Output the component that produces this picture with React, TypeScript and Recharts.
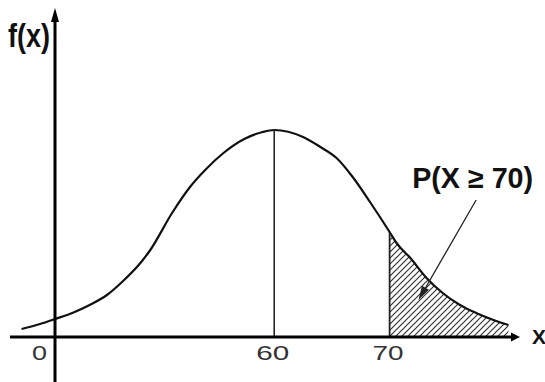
import React from 'react';
import { ComposedChart, Line, Area, XAxis, YAxis, ReferenceLine } from 'recharts';

// x positions (in the chart's x units) and curve heights f(x)
const xValues = [38.1, 39.7, 41.0, 42.6, 44.0, 45.5, 46.9, 48.4, 49.2, 51.2, 52.7, 54.1, 55.6, 57.4, 59.0, 60.0, 62.5, 64.0, 65.4, 66.8, 68.3, 70.0, 70.6, 71.8, 73.2, 74.6, 76.1, 77.5, 79.0, 80.3];
const densityValues = [0.08, 0.13, 0.18, 0.245, 0.32, 0.42, 0.56, 0.74, 0.86, 1.25, 1.5, 1.68, 1.84, 1.98, 2.05, 2.07, 2.0, 1.9, 1.79, 1.6, 1.35, 1.05, 0.94, 0.79, 0.59, 0.44, 0.32, 0.24, 0.17, 0.12];

const meanValue = 60;
const tailStart = 70;
const originX = 41;
const tickValues = [41, 60, 70];
const tickLabels = ['0', '60', '70'];
const tickLabelWidths = [15, 33, 31];
const xDomain = [37.1, 81.3];
const yDomain = [0, 3.29];
const yAxisBottom = -0.45;
const pointerFrom = { x: 77.5, y: 1.37 };
const pointerTo = { x: 72.5, y: 0.37 };
const annotationText = 'P(X \u2265 70)';
const yTitle = 'f(x)';
const xTitle = 'X';

const data = xValues.map((x, i) => ({
  x,
  f: densityValues[i],
  tail: x >= tailStart ? densityValues[i] : null,
}));
const meanHeight = densityValues[xValues.indexOf(meanValue)];
const tailHeight = densityValues[xValues.indexOf(tailStart)];

type ArrowOpts = {
  head: number;
  half: number;
  width: number;
  color: string;
  label?: (p: any) => React.ReactNode;
};

const arrowShape = (opts: ArrowOpts) => (props: any) => {
  const { x1, y1, x2, y2 } = props;
  const dx = x2 - x1;
  const dy = y2 - y1;
  const len = Math.hypot(dx, dy) || 1;
  const ux = dx / len;
  const uy = dy / len;
  const bx = x2 - ux * opts.head;
  const by = y2 - uy * opts.head;
  const px = -uy * opts.half;
  const py = ux * opts.half;
  return (
    <g>
      <line x1={x1} y1={y1} x2={bx + ux} y2={by + uy} stroke={opts.color} strokeWidth={opts.width} />
      <polygon points={`${x2},${y2} ${bx + px},${by + py} ${bx - px},${by - py}`} fill={opts.color} />
      {opts.label ? opts.label(props) : null}
    </g>
  );
};

const boldFont = '"Liberation Sans", Arial, sans-serif';

const xAxisShape = arrowShape({
  head: 9,
  half: 4.5,
  width: 3,
  color: '#000',
  label: (p) => (
    <text x={p.x2 + 12} y={p.y2 + 7} fontFamily={boldFont} fontWeight="bold" fontSize={21} fill="#111">
      {xTitle}
    </text>
  ),
});

const yAxisShape = arrowShape({
  head: 14,
  half: 4,
  width: 3,
  color: '#000',
  label: (p) => (
    <text
      x={p.x2 - 47}
      y={p.y2 + 39}
      fontFamily={boldFont}
      fontWeight="bold"
      fontSize={33}
      fill="#111"
      textLength={42}
      lengthAdjust="spacingAndGlyphs"
    >
      {yTitle}
    </text>
  ),
});

const pointerShape = arrowShape({
  head: 14,
  half: 4,
  width: 1.3,
  color: '#222',
  label: (p) => (
    <text
      x={p.x1 - 64}
      y={p.y1 - 12}
      fontFamily={boldFont}
      fontWeight="bold"
      fontSize={29}
      fill="#111"
      textLength={121}
      lengthAdjust="spacingAndGlyphs"
    >
      {annotationText}
    </text>
  ),
});

const Tick = (props: any) => {
  const { x, y, payload } = props;
  const i = tickValues.indexOf(payload.value);
  if (i < 0) return null;
  const isOrigin = payload.value === originX;
  return (
    <text
      x={isOrigin ? x - 8 : x - 1.5}
      y={y + 23}
      textAnchor={isOrigin ? 'end' : 'middle'}
      fontFamily={boldFont}
      fontSize={20}
      fill="#333"
      textLength={tickLabelWidths[i]}
      lengthAdjust="spacingAndGlyphs"
    >
      {tickLabels[i]}
    </text>
  );
};

export default function App() {
  return (
    <div style={{ position: 'absolute', left: 0, top: 0, width: 545, height: 382, background: '#fff' }}>
      <ComposedChart width={545} height={382} data={data} margin={{ top: 8, right: 25, bottom: 0, left: 10 }}>
        <defs>
          <pattern id="hatch" patternUnits="userSpaceOnUse" width={6} height={6}>
            <path d="M0,6 L6,0 M-1,1 L1,-1 M5,7 L7,5" stroke="#333" strokeWidth={1.2} />
          </pattern>
        </defs>
        <XAxis
          dataKey="x"
          type="number"
          domain={xDomain}
          ticks={tickValues}
          tick={<Tick />}
          interval={0}
          axisLine={false}
          tickLine={false}
          tickSize={0}
          tickMargin={0}
          height={45}
        />
        <YAxis type="number" domain={yDomain} hide />
        <Area
          dataKey="tail"
          type="monotone"
          stroke="none"
          fill="url(#hatch)"
          fillOpacity={1}
          baseValue={0}
          isAnimationActive={false}
        />
        <Line dataKey="f" type="monotone" dot={false} stroke="#111" strokeWidth={2.2} isAnimationActive={false} />
        <ReferenceLine
          segment={[{ x: meanValue, y: 0 }, { x: meanValue, y: meanHeight }]}
          stroke="#222"
          strokeWidth={1.6}
          ifOverflow="visible"
        />
        <ReferenceLine
          segment={[{ x: tailStart, y: 0 }, { x: tailStart, y: tailHeight }]}
          stroke="#222"
          strokeWidth={1.8}
          ifOverflow="visible"
        />
        <ReferenceLine
          segment={[{ x: xDomain[0], y: 0 }, { x: xDomain[1], y: 0 }]}
          shape={xAxisShape}
          ifOverflow="visible"
        />
        <ReferenceLine
          segment={[{ x: originX, y: yAxisBottom }, { x: originX, y: yDomain[1] }]}
          shape={yAxisShape}
          ifOverflow="visible"
        />
        <ReferenceLine segment={[pointerFrom, pointerTo]} shape={pointerShape} ifOverflow="visible" />
      </ComposedChart>
    </div>
  );
}
